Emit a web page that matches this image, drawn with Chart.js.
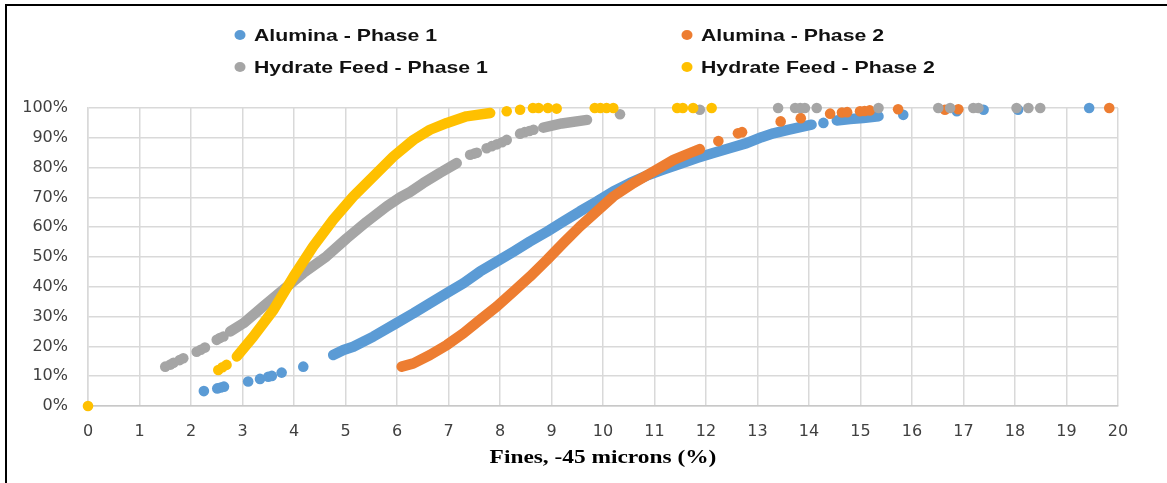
<!DOCTYPE html>
<html>
<head>
<meta charset="utf-8">
<script src="https://cdn.jsdelivr.net/npm/chart.js@4.4.1/dist/chart.umd.min.js"></script>
<style>
    body { margin: 0; background: #fff; overflow: hidden; }
    #wrap { position: relative; width: 1167px; height: 483px; overflow: hidden; }
    #frame {
        position: absolute; left: 5px; top: 4px; width: 1200px; height: 520px;
        border-left: 2px solid #000; border-top: 2px solid #000; pointer-events: none;
    }
</style>
</head>
<body>
<div id="wrap">
    <canvas id="chart" width="1167" height="483"></canvas>
    <div id="frame"></div>
</div>
<script>
const seriesNames = ["Alumina - Phase 1", "Alumina - Phase 2", "Hydrate Feed - Phase 1", "Hydrate Feed - Phase 2"];
const seriesColors = ["#5B9BD5", "#ED7D31", "#A5A5A5", "#FFC000"];
const xTicks = [0, 1, 2, 3, 4, 5, 6, 7, 8, 9, 10, 11, 12, 13, 14, 15, 16, 17, 18, 19, 20];
const yTicks = [0, 10, 20, 30, 40, 50, 60, 70, 80, 90, 100];
const xTitle = "Fines, -45 microns (%)";

// [fines %, cumulative %]; the dense runs of points are kept as "curve", null = break
const aluminaP1Curve = [[4.76, 17.1], [4.96, 18.8], [5.15, 19.9], [5.54, 23.3], [5.99, 27.8], [6.32, 31.1], [6.64, 34.5],
    [6.97, 37.9], [7.29, 41.2], [7.61, 45.1], [7.94, 48.5], [8.26, 51.8], [8.58, 55.2], [8.91, 58.5], [9.23, 61.9],
    [9.55, 65.3], [9.88, 68.6], [10.20, 72.0], [10.52, 74.8], [10.85, 77.3], [11.17, 79.3], [11.50, 81.3], [11.82, 83.2],
    [12.14, 84.9], [12.47, 86.6], [12.79, 88.2], [13.08, 90.2], [13.31, 91.5], [13.57, 92.6], [13.83, 93.6], [14.05, 94.4],
    null, [14.54, 95.8], [14.80, 96.3], [15.05, 96.6], [15.35, 97.2]];
const aluminaP1Dots = [[2.25, 5.0], [2.51, 5.9], [2.58, 6.2], [2.64, 6.5], [3.11, 8.2], [3.34, 9.1], [3.50, 9.8], [3.57, 10.1],
    [3.76, 11.2], [4.18, 13.2], [14.28, 95.0], [15.83, 97.7], [16.87, 98.9], [17.39, 99.4], [18.06, 99.4], [19.44, 100]];

const aluminaP2Curve = [[6.09, 13.2], [6.32, 14.3], [6.64, 17.1], [6.97, 20.5], [7.29, 24.4], [7.61, 28.9], [7.94, 33.4],
    [8.26, 38.4], [8.58, 43.4], [8.91, 49.0], [9.23, 54.7], [9.55, 60.2], [9.88, 65.3], [10.20, 70.3], [10.59, 74.8],
    [10.98, 78.7], [11.37, 82.6], [11.69, 84.9], [11.88, 86.2]];
const aluminaP2Dots = [[12.24, 88.9], [12.62, 91.5], [12.70, 91.9], [13.45, 95.5], [13.84, 96.6], [14.41, 98.1], [14.64, 98.5],
    [14.74, 98.6], [14.99, 98.9], [15.08, 99.0], [15.18, 99.2], [15.73, 99.6], [16.64, 99.4], [16.90, 99.6], [19.83, 100]];

const hydrateP1Curve = [[2.76, 25.0], [3.02, 27.8], [3.40, 33.4], [3.79, 39.0], [4.18, 44.6], [4.63, 50.2], [5.02, 56.2],
    [5.41, 61.8], [5.80, 67.0], [6.06, 70.0], [6.25, 71.8], [6.51, 74.8], [6.83, 78.2], [7.16, 81.5],
    null, [8.84, 93.4], [9.20, 94.8], [9.69, 96.0]];
const hydrateP1Dots = [[1.50, 13.2], [1.60, 13.9], [1.66, 14.5], [1.78, 15.4], [1.85, 16.0], [2.11, 18.2], [2.19, 18.9],
    [2.27, 19.6], [2.50, 22.2], [2.56, 22.8], [2.63, 23.3], [7.42, 84.3], [7.50, 84.7], [7.55, 85.0], [7.74, 86.5],
    [7.84, 87.2], [7.94, 87.8], [8.04, 88.5], [8.13, 89.3], [8.39, 91.4], [8.48, 91.9], [8.57, 92.3], [8.65, 92.7],
    [10.33, 97.9], [11.88, 99.4], [13.40, 100], [13.73, 100], [13.83, 100], [13.92, 100], [14.15, 100], [15.35, 100],
    [16.51, 100], [16.74, 100], [17.19, 100], [17.29, 100], [18.03, 100], [18.26, 100], [18.49, 100]];

const hydrateP2Curve = [[2.89, 16.6], [3.21, 23.3], [3.60, 32.2], [3.99, 43.4], [4.37, 53.5], [4.76, 62.5], [5.15, 70.3],
    [5.54, 77.0], [5.93, 83.7], [6.32, 89.3], [6.64, 92.7], [6.97, 95.0], [7.35, 97.2], [7.81, 98.3]];
const hydrateP2Dots = [[0, 0], [2.53, 12.1], [2.61, 13.0], [2.69, 13.8], [8.13, 98.9], [8.39, 99.4], [8.64, 100], [8.75, 100],
    [8.93, 100], [9.10, 99.8], [9.84, 100], [9.95, 100], [10.07, 100], [10.20, 100], [11.44, 100], [11.55, 100],
    [11.75, 100], [12.11, 100]];

const curves = [aluminaP1Curve, aluminaP2Curve, hydrateP1Curve, hydrateP2Curve];
const dots = [aluminaP1Dots, aluminaP2Dots, hydrateP1Dots, hydrateP2Dots];

function toPoints(list) {
    return list.map((p) => (p ? { x: p[0], y: p[1] } : { x: null, y: null }));
}

let datasets = [];
seriesNames.forEach((name, i) => {
    // excel draws the later series on top
    let order = seriesNames.length - i;
    datasets.push({
        label: name + " curve",
        data: toPoints(curves[i]),
        showLine: true,
        borderColor: seriesColors[i],
        borderWidth: 10.5,
        borderCapStyle: "round",
        borderJoinStyle: "round",
        pointRadius: 0,
        spanGaps: false,
        clip: false,
        order: order,
    });
    datasets.push({
        label: name,
        data: toPoints(dots[i]),
        showLine: false,
        backgroundColor: seriesColors[i],
        borderWidth: 0,
        pointRadius: 5.3,
        clip: false,
        order: order,
    });
});

const gridLegend = {
    id: "gridLegend",
    afterDraw(chart) {
        let ctx = chart.ctx;
        let cols = [240, 687];
        let rows = [35, 67];

        ctx.save();
        seriesNames.forEach((name, i) => {
            let cx = cols[i % 2];
            let cy = rows[Math.floor(i / 2)];
            ctx.fillStyle = seriesColors[i];
            ctx.beginPath();
            ctx.ellipse(cx, cy, 5.5, 5, 0, 0, Math.PI * 2);
            ctx.fill();

            ctx.save();
            ctx.translate(cx + 14, cy + 6);
            ctx.scale(1.25, 1);
            ctx.font = 'bold 17px "Liberation Sans", Arial, sans-serif';
            ctx.fillStyle = "#111";
            ctx.textBaseline = "alphabetic";
            ctx.fillText(name, 0, 0);
            ctx.restore();
        });

        // axis title, stretched like the picture
        let area = chart.chartArea;
        ctx.save();
        ctx.translate((area.left + area.right) / 2, 463);
        ctx.scale(1.23, 1);
        ctx.font = 'bold 19px "Liberation Serif", "Times New Roman", serif';
        ctx.fillStyle = "#000";
        ctx.textAlign = "center";
        ctx.textBaseline = "alphabetic";
        ctx.fillText(xTitle, 0, 0);
        ctx.restore();
        ctx.restore();
    },
};

new Chart(document.getElementById("chart"), {
    type: "scatter",
    data: { datasets: datasets },
    options: {
        responsive: false,
        animation: false,
        events: [],
        layout: { padding: { left: 0, right: 49, top: 108, bottom: 0 } },
        plugins: {
            legend: { display: false },
            tooltip: { enabled: false },
        },
        scales: {
            x: {
                type: "linear",
                min: 0,
                max: 20,
                afterBuildTicks: (scale) => {
                    scale.ticks = xTicks.map((v) => ({ value: v }));
                },
                afterFit: (scale) => {
                    scale.height = 77;
                },
                ticks: {
                    padding: 16,
                    color: "#404040",
                    font: { family: '"DejaVu Sans", sans-serif', size: 16 },
                    maxRotation: 0,
                    autoSkip: false,
                },
                grid: { color: "#D9D9D9", lineWidth: 1.5, drawTicks: false },
                border: { color: "#C8C8C8", width: 1.5 },
            },
            y: {
                type: "linear",
                min: 0,
                max: 100,
                afterBuildTicks: (scale) => {
                    scale.ticks = yTicks.map((v) => ({ value: v }));
                },
                afterFit: (scale) => {
                    scale.width = 88;
                },
                ticks: {
                    padding: 20,
                    color: "#404040",
                    font: { family: '"DejaVu Sans", sans-serif', size: 16 },
                    callback: (v) => v + "%",
                },
                grid: { color: "#D9D9D9", lineWidth: 1.5, drawTicks: false },
                border: { color: "#D9D9D9", width: 1.5 },
            },
        },
    },
    plugins: [gridLegend],
});
</script>
</body>
</html>
